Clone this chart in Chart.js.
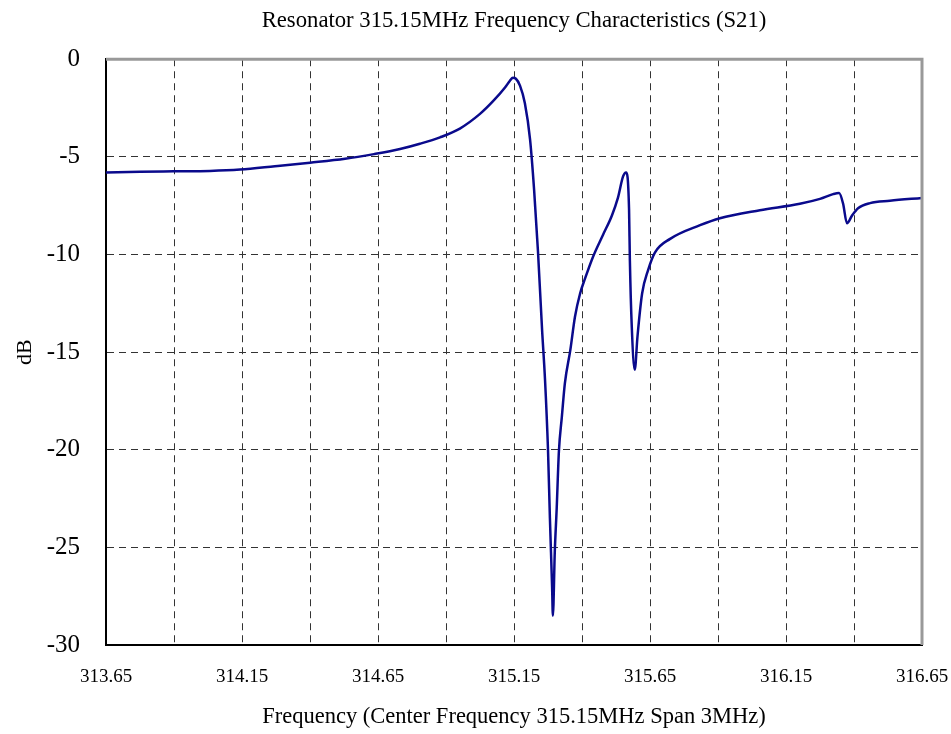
<!DOCTYPE html>
<html>
<head>
<meta charset="utf-8">
<script src="https://cdn.jsdelivr.net/npm/chart.js@4"></script>
<style>
  html, body { margin: 0; padding: 0; background: #fff; }
  #wrap { width: 951px; height: 734px; }
</style>
</head>
<body>
<div id="wrap"><canvas id="s21Chart"></canvas></div>
<script>
// S21 sweep
const freqs = [
    313.650, 313.775, 313.900, 314.032, 314.143, 314.271, 314.400, 314.529, 314.635, 314.731,
    314.804, 314.878, 314.951, 315.025, 315.073, 315.117, 315.135, 315.146, 315.157, 315.172,
    315.190, 315.209, 315.224, 315.238, 315.253, 315.264, 315.275, 315.282, 315.290, 315.293,
    315.300, 315.307, 315.315, 315.326, 315.337, 315.357, 315.374, 315.393, 315.412, 315.441,
    315.477, 315.510, 315.532, 315.551, 315.562, 315.573, 315.576, 315.583, 315.594, 315.604,
    315.621, 315.643, 315.668, 315.724, 315.834, 315.907, 316.054, 316.201, 316.275,
    316.323, 316.345, 316.360, 316.374, 316.393, 316.415, 316.459, 316.532, 316.650
];
const dbValues = [
    -5.80, -5.76, -5.74, -5.72, -5.65, -5.48, -5.30, -5.10, -4.86, -4.60,
    -4.33, -4.00, -3.55, -2.80, -2.15, -1.45, -1.10, -0.95, -1.00, -1.35,
    -2.25, -4.10, -6.70, -9.80, -13.8, -16.4, -20.0, -23.5, -27.0, -28.5,
    -25.2, -23.0, -20.1, -18.3, -16.6, -14.9, -13.2, -12.0, -11.2, -10.1,
    -9.00, -8.00, -7.10, -6.00, -5.80, -7.70, -10.3, -13.7, -15.9, -14.2,
    -12.0, -10.8, -9.90, -9.20, -8.50, -8.14, -7.73, -7.40, -7.15,
    -6.91, -6.85, -7.40, -8.40, -8.00, -7.63, -7.37, -7.25, -7.10
];
const xTickValues = [313.65, 313.90, 314.15, 314.40, 314.65, 314.90, 315.15, 315.40, 315.65, 315.90, 316.15, 316.40, 316.65];
const yTickValues = [0, -5, -10, -15, -20, -25, -30];

const serif = 'Liberation Serif';

// top and right edges of the plot frame are grey
const frameBorder = {
    id: 'frameBorder',
    afterDraw(chart) {
        const { ctx, chartArea: a } = chart;
        ctx.save();
        ctx.strokeStyle = '#999';
        ctx.lineWidth = 3;
        ctx.beginPath();
        ctx.moveTo(a.left, a.top);
        ctx.lineTo(a.right, a.top);
        ctx.lineTo(a.right, a.bottom);
        ctx.stroke();
        ctx.restore();
    }
};

const data = {
    datasets: [{
        label: 'S21',
        data: freqs.map((f, i) => ({ x: f, y: dbValues[i] })),
        borderColor: '#0a0a8c',
        borderWidth: 2.5,
        pointRadius: 0,
        cubicInterpolationMode: 'monotone',
        fill: false
    }]
};

const config = {
    type: 'line',
    data: data,
    plugins: [frameBorder],
    options: {
        responsive: true,
        maintainAspectRatio: false,
        animation: false,
        layout: { padding: { left: 0, right: 29, top: 0, bottom: 0 } },
        plugins: {
            legend: { display: false },
            tooltip: { enabled: false },
            title: {
                display: true,
                fullSize: false,
                text: 'Resonator 315.15MHz Frequency Characteristics (S21)',
                color: '#000',
                font: { family: serif, size: 22.7, weight: 'normal' },
                padding: { top: 7, bottom: 25 }
            }
        },
        scales: {
            x: {
                type: 'linear',
                min: 313.65,
                max: 316.65,
                afterBuildTicks: scale => {
                    scale.ticks = xTickValues.map(v => ({ value: v }));
                },
                afterFit: scale => {
                    scale.height = 89;
                    scale.paddingLeft = 0;
                    scale.paddingRight = 0;
                },
                ticks: {
                    autoSkip: false,
                    maxRotation: 0,
                    padding: 21,
                    color: '#000',
                    font: { family: serif, size: 19 },
                    callback: (value, index) => index % 2 === 0 ? value.toFixed(2) : ''
                },
                grid: { color: '#333', lineWidth: 1, drawTicks: false },
                border: { color: '#000', width: 2, dash: [7, 5] },
                title: {
                    display: true,
                    text: 'Frequency (Center Frequency 315.15MHz Span 3MHz)',
                    color: '#000',
                    font: { family: serif, size: 22.5 },
                    padding: { top: 0, bottom: 3 }
                }
            },
            y: {
                min: -30,
                max: 0,
                afterBuildTicks: scale => {
                    scale.ticks = yTickValues.map(v => ({ value: v }));
                },
                afterFit: scale => { scale.width = 106; },
                ticks: {
                    padding: 26,
                    color: '#000',
                    font: { family: serif, size: 25 }
                },
                grid: { color: '#333', lineWidth: 1, drawTicks: false },
                border: { color: '#000', width: 2, dash: [7, 5] },
                title: {
                    display: true,
                    text: 'dB',
                    color: '#000',
                    font: { family: serif, size: 22 },
                    padding: { top: 12, bottom: 0 }
                }
            }
        }
    }
};

const s21Chart = new Chart(document.getElementById('s21Chart'), config);
</script>
</body>
</html>
